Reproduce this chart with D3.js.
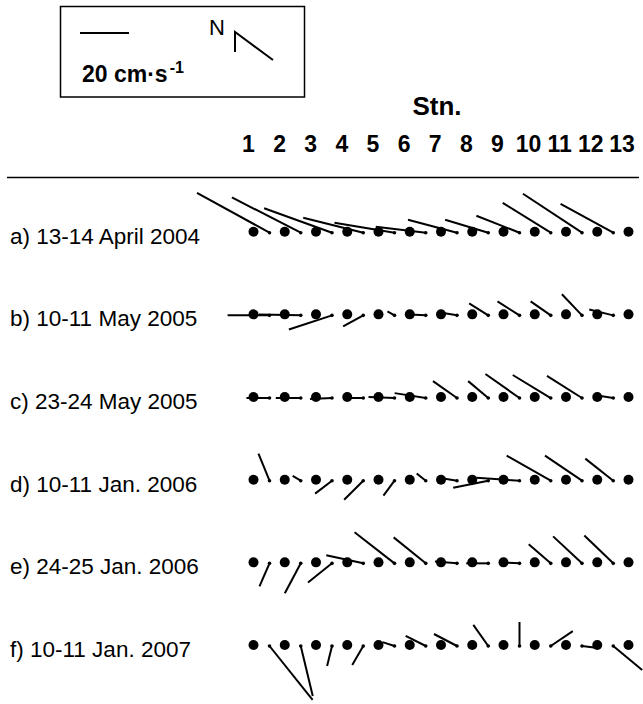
<!DOCTYPE html>
<html>
<head>
<meta charset="utf-8">
<script src="https://cdn.jsdelivr.net/npm/d3@7"></script>
<style>
  body { margin: 0; background: #fff; }
  text { font-family: "Liberation Sans", Arial, sans-serif; }
</style>
</head>
<body>
<svg width="643" height="704"></svg>
<script>
// stations and surveys
var stations = [1, 2, 3, 4, 5, 6, 7, 8, 9, 10, 11, 12, 13];
var surveys = ['a) 13-14 April 2004', 'b) 10-11 May 2005', 'c) 23-24 May 2005',
	'd) 10-11 Jan. 2006', 'e) 24-25 Jan. 2006', 'f) 10-11 Jan. 2007'];

// current components in cm/s (u = right, v = up in the plot frame)
var uA = [-29.6, -28.1, -27.7, -24.5, -24.5, -20.4, -20.0, -17.6, -17.6, -19.6, -24.1, -21.5, 0];
var vA = [16.3, 14.4, 10.0, 6.1, 4.1, 2.4, 5.3, 5.3, 6.9, 12.2, 15.9, 11.8, 0];
var uB = [-17.1, -17.1, -17.6, -8.2, -2.9, -6.5, -6.9, -7.8, -9.0, -8.2, -8.2, -9.8, 0];
var vB = [0, 0.4, -5.8, -4.5, 1.6, 0.4, 1.2, 4.9, 5.7, 5.7, 8.6, 2.4, 0];
var uC = [-9.4, -10.2, -9.0, -6.9, -10.6, -12.7, -9.8, -8.2, -13.9, -15.5, -14.3, -7.8, 0];
var vC = [0, 0, -0.4, 0, 0.4, 2.0, 6.9, 6.9, 9.8, 9.4, 9.0, 1.2, 0];
var uD = [-4.5, -3.3, -6.9, -7.8, -4.5, -3.7, -4.9, -14.3, -17.6, -18.0, -15.1, -11.4, 0];
var vD = [11.0, 2.0, -5.3, -7.8, -6.1, 2.9, 0.8, -2.9, 1.2, 10.2, 10.2, 9.0, 0];
var uE = [-4.1, -6.5, -9.8, -15.1, -16.3, -13.1, -9.0, -9.0, -8.2, -9.0, -11.8, -11.8, 0];
var vE = [-9.4, -12.2, -7.8, 3.3, 12.7, 10.6, 0.8, 0, 0.4, 7.8, 11.0, 11.4, 0];
var uF = [17.6, 4.9, -2.0, -4.5, -4.9, -8.2, -9.4, -6.1, 0, 9.0, 6.5, 11.8, 0];
var vF = [-22.0, -20.4, -8.2, -7.8, 1.6, 4.1, 4.9, 8.6, 9.8, 6.1, -0.8, -9.8, 0];

var uAll = [uA, uB, uC, uD, uE, uF];
var vAll = [vA, vB, vC, vD, vE, vF];

var svg = d3.select('svg');

var x = d3.scalePoint()
	.domain(stations)
	.range([253.5, 628.5]);

var labelX = d3.scalePoint()
	.domain(stations)
	.range([248.5, 622]);

var y = d3.scalePoint()
	.domain(surveys)
	.range([231.7, 645]);

// 20 cm/s -> 49 px
var len = d3.scaleLinear()
	.domain([0, 20])
	.range([0, 49]);

// legend box
var legend = svg.append('g');
legend.append('rect')
	.attr('x', 60.5).attr('y', 6.5)
	.attr('width', 244).attr('height', 90.5)
	.attr('fill', 'none').attr('stroke', '#000').attr('stroke-width', 1.5);
legend.append('line')
	.attr('x1', 80).attr('x2', 80 + len(20))
	.attr('y1', 33).attr('y2', 33)
	.attr('stroke', '#000').attr('stroke-width', 2);
var lt = legend.append('text')
	.attr('x', 82).attr('y', 82)
	.attr('font-size', 23).attr('font-weight', 'bold');
lt.append('tspan').text('20 cm\u00b7s');
lt.append('tspan').attr('dx', 2).attr('dy', -9).attr('font-size', 16).text('-1');
legend.append('text')
	.attr('x', 209).attr('y', 35)
	.attr('font-size', 22)
	.text('N');
legend.append('path')
	.attr('d', 'M235,52 L235,32 L273,60')
	.attr('fill', 'none').attr('stroke', '#000').attr('stroke-width', 2);

// header
svg.append('text')
	.attr('x', 437).attr('y', 115)
	.attr('text-anchor', 'middle')
	.attr('font-size', 26).attr('font-weight', 'bold')
	.text('Stn.');

svg.selectAll('.stn')
	.data(stations)
	.enter().append('text')
	.attr('class', 'stn')
	.attr('x', d => labelX(d))
	.attr('y', 152)
	.attr('text-anchor', 'middle')
	.attr('font-size', 23).attr('font-weight', 'bold')
	.text(d => d);

svg.append('line')
	.attr('x1', 7).attr('x2', 639)
	.attr('y1', 177.5).attr('y2', 177.5)
	.attr('stroke', '#000').attr('stroke-width', 1.5);

// rows
surveys.forEach(function (s, i) {
	var g = svg.append('g');
	var row = stations.map(function (st, j) {
		return { st: st, u: uAll[i][j], v: vAll[i][j] };
	});

	g.append('text')
		.attr('x', 10).attr('y', y(s) + 12)
		.attr('font-size', 22.5)
		.text(s);

	var ox = 16, oy = 1;

	g.selectAll('.dot')
		.data(row)
		.enter().append('circle')
		.attr('cx', d => x(d.st))
		.attr('cy', y(s))
		.attr('r', 5)
		.attr('fill', '#000');

	var moving = row.filter(d => d.u !== 0 || d.v !== 0);

	g.selectAll('.stick')
		.data(moving)
		.enter().append('line')
		.attr('x1', d => x(d.st) + ox)
		.attr('y1', y(s) + oy)
		.attr('x2', d => x(d.st) + ox + len(d.u))
		.attr('y2', d => y(s) + oy - len(d.v))
		.attr('stroke', '#000')
		.attr('stroke-width', 2);

	g.selectAll('.knob')
		.data(moving)
		.enter().append('circle')
		.attr('cx', d => x(d.st) + ox)
		.attr('cy', y(s) + oy)
		.attr('r', 1.8)
		.attr('fill', '#000');
});
</script>
</body>
</html>
